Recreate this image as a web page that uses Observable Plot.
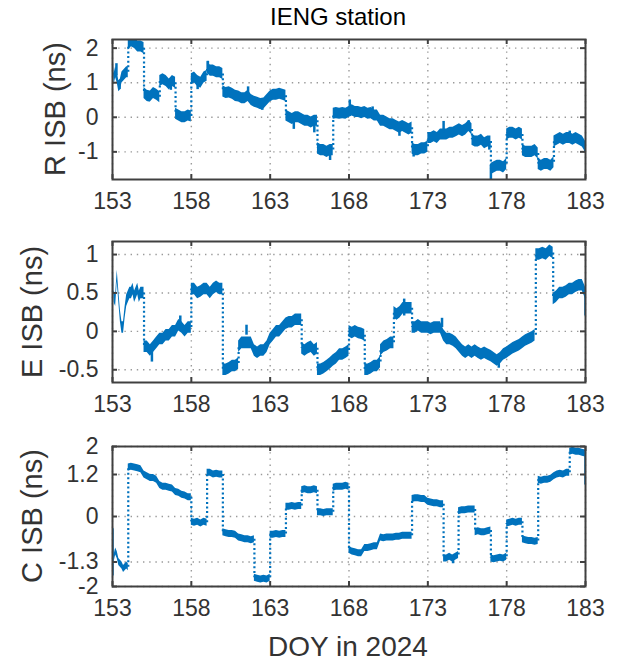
<!DOCTYPE html>
<html><head><meta charset="utf-8">
<script src="https://cdn.jsdelivr.net/npm/d3@7"></script>
<script src="https://cdn.jsdelivr.net/npm/@observablehq/plot@0.6"></script>
<style>
body{margin:0;background:#fff;}
#wrap{position:relative;width:618px;height:664px;font-family:"Liberation Sans",Arial,Helvetica,sans-serif;color:#333;overflow:hidden;}
.panel{position:absolute;left:0;}
.lbl{position:absolute;white-space:nowrap;line-height:1;}
.ylbl{font-size:29px;transform:translate(-50%,-50%) rotate(-90deg);}
</style></head><body><div id="wrap"></div>
<script>
// ---- data ----
const title = "IENG station";
const xLabel = "DOY in 2024";
const xTicks = [153, 158, 163, 168, 173, 178, 183];
const rTicks = [-1, 0, 1, 2];
const eTicks = [-0.5, 0, 0.5, 1];
const cTicks = [-2, -1.3, 0, 1.2, 2];

// segments: [start DOY, end DOY, ISB values sampled evenly in between]
const rSegments = [
 [153, 154, [2.05, 1.1, 1.3, 1.15, 0.9, 0.95, 1.15, 1.2, 1.25, 1.3, 1.3]],
 [154, 155, [2.1, 2.2, 2.15, 2.05, 2.05, 2.0]],
 [155, 156, [0.7, 0.62, 0.6, 0.7, 0.65, 0.58]],
 [156, 157, [1.05, 1.1, 1.05, 0.95, 1.05, 1.0]],
 [157, 158, [0.1, 0.05, 0.0, 0.0, 0.05, 0.02]],
 [158, 159, [1.1, 1.15, 1.05, 1.0, 1.15, 1.2]],
 [159, 160, [1.45, 1.35, 1.35, 1.3, 1.3, 1.25]],
 [160, 164, [0.75, 0.7, 0.72, 0.68, 0.62, 0.6, 0.55, 0.55, 0.62, 0.5, 0.45, 0.42, 0.38, 0.4, 0.5, 0.6, 0.65, 0.65, 0.68, 0.65, 0.62]],
 [164, 166, [0.05, 0.0, -0.05, 0.0, 0.0, -0.05, -0.1, -0.1, -0.15, -0.1, -0.1]],
 [166, 167, [-0.9, -0.95, -0.95, -1.0, -0.95, -0.95]],
 [167, 172, [0.1, 0.12, 0.1, 0.12, 0.1, 0.15, 0.2, 0.15, 0.15, 0.12, 0.15, 0.1, 0.12, 0.05, 0.05, -0.1, -0.1, -0.15, -0.2, -0.2, -0.25, -0.3, -0.25, -0.3, -0.35, -0.3]],
 [172, 173, [-0.9, -0.95, -0.95, -0.9, -0.9, -0.85]],
 [173, 175.8, [-0.6, -0.6, -0.55, -0.6, -0.5, -0.5, -0.5, -0.45, -0.45, -0.4, -0.35, -0.4, -0.35, -0.25, -0.35]],
 [175.8, 177, [-0.65, -0.7, -0.7, -0.65, -0.75, -0.7, -0.7]],
 [177, 178, [-1.5, -1.45, -1.4, -1.4, -1.45, -1.35]],
 [178, 179, [-0.5, -0.45, -0.45, -0.5, -0.45, -0.5]],
 [179, 180, [-0.95, -1.0, -1.0, -1.0, -0.95, -1.05]],
 [180, 181, [-1.35, -1.4, -1.35, -1.35, -1.4, -1.3]],
 [181, 183, [-0.7, -0.65, -0.6, -0.65, -0.6, -0.6, -0.65, -0.6, -0.65, -0.7, -0.85]]
];
// outlier excursions: [DOY, low, high]
const rSpikes = [
 [153.25, 1.2, 1.55], [153.45, 0.8, 1.0], [155.3, 0.45, 0.65], [156.7, 0.78, 1.0],
 [157.5, -0.15, 0.05], [158.4, 0.8, 1.05], [159.05, 1.4, 1.62], [161.6, 0.6, 0.88],
 [162.5, 0.2, 0.4], [164.5, -0.35, -0.05], [165.8, -0.45, -0.1], [166.8, -1.25, -0.95],
 [168.05, 0.2, 0.5], [169.5, -0.05, 0.3], [171.2, -0.55, -0.3], [172.1, -1.15, -0.9],
 [174.0, -0.45, -0.12], [175.6, -0.25, -0.1], [176.9, -0.95, -0.7], [177.0, -1.8, -1.4],
 [182.0, -0.6, -0.4], [183.0, -1.0, -0.8]
];

const eSegments = [
 [153, 155, [1.15, 0.45, 0.4, 0.72, 0.45, 0.2, 0.05, 0.05, 0.25, 0.4, 0.45, 0.5, 0.5, 0.55, 0.45, 0.5, 0.55, 0.45, 0.5, 0.5, 0.5]],
 [155, 158, [-0.2, -0.2, -0.25, -0.2, -0.15, -0.1, -0.1, -0.05, -0.05, 0.0, 0.0, 0.08, 0.05, 0.0, 0.05, 0.05]],
 [158, 160, [0.55, 0.55, 0.5, 0.52, 0.55, 0.55, 0.5, 0.55, 0.58, 0.55, 0.55]],
 [160, 161, [-0.5, -0.5, -0.48, -0.45, -0.45, -0.42]],
 [161, 165, [-0.2, -0.15, -0.15, -0.15, -0.15, -0.25, -0.28, -0.25, -0.25, -0.2, -0.1, -0.05, 0.0, 0.0, 0.05, 0.1, 0.12, 0.12, 0.15, 0.15, 0.15]],
 [165, 166, [-0.22, -0.25, -0.22, -0.2, -0.25, -0.22]],
 [166, 168, [-0.5, -0.5, -0.48, -0.45, -0.42, -0.38, -0.35, -0.3, -0.3, -0.28, -0.25]],
 [168, 169, [0.0, -0.02, 0.0, -0.02, -0.03, -0.05]],
 [169, 170, [-0.5, -0.5, -0.48, -0.45, -0.45, -0.4]],
 [170, 170.85, [-0.25, -0.2, -0.18, -0.15, -0.15]],
 [170.85, 172, [0.25, 0.22, 0.25, 0.3, 0.3, 0.3, 0.3]],
 [172, 179.8, [0.05, 0.05, 0.08, 0.05, 0.05, 0.05, 0.03, 0.05, 0.05, 0.05, -0.05, -0.1, -0.1, -0.12, -0.15, -0.2, -0.25, -0.28, -0.25, -0.28, -0.25, -0.28, -0.3, -0.28, -0.3, -0.32, -0.35, -0.38, -0.35, -0.3, -0.28, -0.25, -0.22, -0.2, -0.18, -0.15, -0.12, -0.1, -0.08, -0.05]],
 [179.85, 180.95, [1.0, 1.0, 1.02, 1.0, 1.05, 1.02]],
 [180.95, 183, [0.42, 0.45, 0.5, 0.5, 0.52, 0.55, 0.55, 0.58, 0.6, 0.6, 0.5]]
];
const eSpikes = [
 [155.5, -0.4, -0.2], [157.3, 0.05, 0.2], [161.5, -0.05, 0.08], [171.5, 0.2, 0.42],
 [173.9, 0.05, 0.17], [177.5, -0.48, -0.3], [183.0, 0.2, 0.55]
];

const cSegments = [
 [153, 154, [-0.45, -1.2, -1.0, -1.1, -1.3, -1.35, -1.4, -1.5, -1.45, -1.4, -1.45]],
 [154, 158, [1.4, 1.42, 1.4, 1.38, 1.35, 1.2, 1.15, 1.1, 1.1, 1.05, 0.9, 0.85, 0.85, 0.82, 0.8, 0.7, 0.68, 0.62, 0.6, 0.55, 0.55]],
 [158, 159, [-0.15, -0.18, -0.15, -0.2, -0.15, -0.18]],
 [159, 160, [1.25, 1.25, 1.2, 1.22, 1.2, 1.2]],
 [160, 162, [-0.45, -0.48, -0.5, -0.5, -0.52, -0.6, -0.62, -0.65, -0.65, -0.68, -0.65]],
 [162, 163, [-1.75, -1.78, -1.8, -1.78, -1.8, -1.75]],
 [163, 164, [-0.52, -0.52, -0.5, -0.52, -0.5, -0.5]],
 [164, 165, [0.28, 0.28, 0.3, 0.28, 0.3, 0.3]],
 [165, 166, [0.75, 0.78, 0.75, 0.75, 0.78, 0.75]],
 [166, 167, [0.12, 0.12, 0.1, 0.12, 0.12, 0.12]],
 [167, 168, [0.82, 0.85, 0.85, 0.85, 0.88, 0.85]],
 [168, 172, [-0.95, -1.0, -1.02, -1.05, -1.05, -0.9, -0.9, -0.88, -0.85, -0.85, -0.6, -0.62, -0.6, -0.6, -0.6, -0.58, -0.58, -0.55, -0.55, -0.55, -0.55]],
 [172, 174, [0.5, 0.52, 0.52, 0.5, 0.5, 0.42, 0.4, 0.38, 0.38, 0.35, 0.35]],
 [174, 174.95, [-1.2, -1.2, -1.15, -1.2, -1.15, -1.1]],
 [174.95, 176, [0.15, 0.18, 0.18, 0.2, 0.2, 0.2]],
 [176, 177, [-0.45, -0.42, -0.45, -0.45, -0.42, -0.4]],
 [177, 178, [-1.2, -1.22, -1.2, -1.18, -1.2, -1.15]],
 [178, 179, [-0.2, -0.18, -0.15, -0.18, -0.15, -0.15]],
 [179, 180, [-0.65, -0.68, -0.7, -0.7, -0.72, -0.7]],
 [180, 182, [1.05, 1.02, 1.05, 1.05, 1.08, 1.15, 1.2, 1.22, 1.2, 1.25, 1.25]],
 [182, 183, [1.85, 1.88, 1.85, 1.85, 1.82, 1.8]]
];
const cSpikes = [
 [153.0, -1.7, -0.35], [174.6, -1.35, -1.15], [183.0, 0.9, 1.8]
];

// ---- helpers ----
function rowsOf(segs) {
  const rows = [];
  segs.forEach(([s, e, vals], k) => {
    vals.forEach((v, i) => rows.push({doy: s + (e - s) * i / (vals.length - 1), isb: v, seg: k}));
  });
  return rows;
}
function jumpsOf(segs) {
  const out = [];
  for (let k = 1; k < segs.length; k++) {
    const p = segs[k - 1][2], n = segs[k][2];
    out.push({x: segs[k][0], a: p[p.length - 1], b: n[0]});
  }
  return out;
}

const BLUE = "#0072BD", AX = "#404040", GRID = "#9a9a9a";
const FONT = '"Liberation Sans", Arial, Helvetica, sans-serif';
const wrap = document.getElementById("wrap");

const panels = [
  {segs: rSegments, spikes: rSpikes, ticks: rTicks, domain: [-1.8, 2.25], hw: 0.16, top: 0, height: 225, mt: 39, mb: 46, label: "R ISB (ns)", lx: 55},
  {segs: eSegments, spikes: eSpikes, ticks: eTicks, domain: [-0.666, 1.17], hw: 0.075, top: 225, height: 200, mt: 16, mb: 43, label: "E ISB (ns)", lx: 32},
  {segs: cSegments, spikes: cSpikes, ticks: cTicks, domain: [-2, 2], hw: 0.1, top: 425, height: 239, mt: 21, mb: 78, label: "C ISB (ns)", lx: 32}
];

const W = 618, ML = 112, MR = 33, TL = 5;
panels.forEach(p => {
  const fh = p.height - p.mt - p.mb, fw = W - ML - MR;
  const rows = rowsOf(p.segs), jumps = jumpsOf(p.segs);
  const svg = Plot.plot({
    width: W, height: p.height,
    marginLeft: ML, marginRight: MR, marginTop: p.mt, marginBottom: p.mb,
    style: {fontFamily: FONT, fontSize: "23px", color: "#333", background: "transparent", overflow: "visible"},
    x: {domain: [153, 183], ticks: xTicks, tickSize: 0, tickPadding: 13, tickFormat: d => String(d), label: null},
    y: {domain: p.domain, ticks: p.ticks, tickSize: 0, tickPadding: 14, tickFormat: d => String(d), label: null},
    marks: [
      Plot.ruleX(xTicks, {stroke: GRID, strokeWidth: 1.4, strokeDasharray: "1.4,4.8"}),
      Plot.ruleY(p.ticks, {stroke: GRID, strokeWidth: 1.4, strokeDasharray: "1.4,4.8"}),
      Plot.areaY(rows, {x: "doy", y1: d => d.isb - p.hw, y2: d => d.isb + p.hw, z: "seg", fill: BLUE, curve: "linear", clip: true}),
      Plot.ruleX(p.spikes, {x: d => d[0], y1: d => d[1], y2: d => d[2], stroke: BLUE, strokeWidth: 2.5, clip: true}),
      Plot.ruleX(jumps, {x: "x", y1: "a", y2: "b", stroke: BLUE, strokeWidth: 2.2, strokeDasharray: "2,2.6", clip: true}),
      Plot.frame({stroke: AX, strokeWidth: 2}),
      Plot.ruleX(xTicks, {stroke: AX, strokeWidth: 2, insetBottom: fh - TL}),
      Plot.ruleX(xTicks, {stroke: AX, strokeWidth: 2, insetTop: fh - TL}),
      Plot.ruleY(p.ticks, {stroke: AX, strokeWidth: 2, insetRight: fw - TL}),
      Plot.ruleY(p.ticks, {stroke: AX, strokeWidth: 2, insetLeft: fw - TL})
    ]
  });
  svg.classList.add("panel");
  svg.style.top = p.top + "px";
  wrap.appendChild(svg);

  const yl = document.createElement("div");
  yl.className = "lbl ylbl";
  yl.textContent = p.label;
  yl.style.left = p.lx + "px";
  yl.style.top = (p.top + p.mt + fh / 2) + "px";
  wrap.appendChild(yl);
});

const t = document.createElement("div");
t.className = "lbl";
t.textContent = title;
t.style.cssText += "font-size:24px;color:#000;left:338px;top:5px;transform:translateX(-50%);";
wrap.appendChild(t);

const xl = document.createElement("div");
xl.className = "lbl";
xl.textContent = xLabel;
xl.style.cssText += "font-size:28px;left:348px;top:647px;transform:translate(-50%,-50%);";
wrap.appendChild(xl);
</script>
</body></html>
